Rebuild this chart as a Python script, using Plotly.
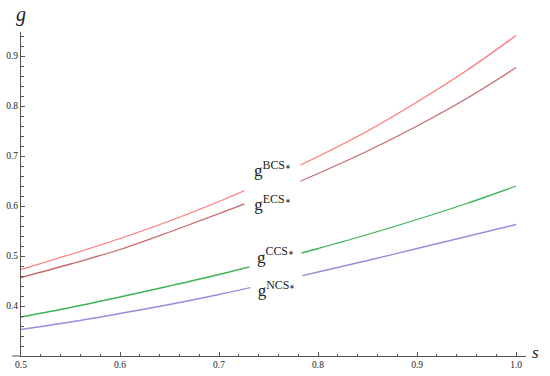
import plotly.graph_objects as go

s_vals = [0.5, 0.55, 0.6, 0.65, 0.7, 0.75, 0.8, 0.85, 0.9, 0.95, 1.0]
g_bcs = [0.473, 0.503, 0.535, 0.570, 0.609, 0.652, 0.699, 0.750, 0.808, 0.871, 0.941]
g_ecs = [0.457, 0.484, 0.513, 0.548, 0.585, 0.623, 0.665, 0.710, 0.760, 0.815, 0.877]
g_ccs = [0.378, 0.397, 0.418, 0.440, 0.463, 0.488, 0.515, 0.543, 0.573, 0.605, 0.640]
g_ncs = [0.353, 0.368, 0.385, 0.403, 0.423, 0.445, 0.468, 0.491, 0.515, 0.539, 0.563]

x_ticks = [0.5, 0.6, 0.7, 0.8, 0.9, 1.0]
x_tick_labels = ["0.5", "0.6", "0.7", "0.8", "0.9", "1.0"]
y_ticks = [0.4, 0.5, 0.6, 0.7, 0.8, 0.9]
y_tick_labels = ["0.4", "0.5", "0.6", "0.7", "0.8", "0.9"]

series = [
    ("BCS", g_bcs, "rgb(255,120,120)"),
    ("ECS", g_ecs, "rgb(200,105,110)"),
    ("CCS", g_ccs, "rgb(60,180,85)"),
    ("NCS", g_ncs, "rgb(145,145,220)"),
]

fig = go.Figure()
for name, vals, col in series:
    fig.add_trace(go.Scatter(x=s_vals, y=vals, mode="lines", name=name,
                             line=dict(color=col, width=1.3, shape="spline"),
                             showlegend=False))

serif = "Liberation Serif, Times New Roman, serif"
axcol = "#555555"

fig.update_layout(
    width=550, height=376,
    margin=dict(l=21, r=24, t=32, b=20),
    paper_bgcolor="white", plot_bgcolor="white",
    xaxis=dict(range=[0.5, 1.01], showgrid=False, zeroline=False, automargin=False,
               showline=True, linecolor=axcol, linewidth=1,
               tickvals=x_ticks, ticktext=x_tick_labels,
               ticks="inside", ticklen=4, tickcolor=axcol,
               minor=dict(dtick=0.02, ticks="inside", ticklen=2.5, tickcolor=axcol),
               tickfont=dict(family=serif, size=9.5, color="#222")),
    yaxis=dict(range=[0.3, 0.948], showgrid=False, zeroline=False, automargin=False,
               showline=True, linecolor=axcol, linewidth=1,
               tickvals=y_ticks, ticktext=y_tick_labels,
               ticks="inside", ticklen=4, tickcolor=axcol,
               minor=dict(dtick=0.02, ticks="inside", ticklen=2.5, tickcolor=axcol),
               tickfont=dict(family=serif, size=9.5, color="#222")),
)

# small extension of the x axis line to the left of the y axis
fig.add_shape(type="line", xref="paper", yref="paper", x0=-0.018, x1=0, y0=0, y1=0,
              line=dict(color=axcol, width=1))

def px_to_x(px):
    return 0.5 + (px - 21) / 990.0

def py_to_y(py):
    return 0.3 + (356 - py) / 500.0

labels = [
    ("BCS", 272.5, 176, 55, 36, "top"),
    ("ECS", 272.5, 198, 55, 32, "bottom"),
    ("CCS", 275.5, 255.5, 51, 27, "middle"),
    ("NCS", 276.5, 286.5, 51, 27, "bottom"),
]
for name, cx, cy, w, h, va in labels:
    fig.add_annotation(x=px_to_x(cx), y=py_to_y(cy), xref="x", yref="y",
                       text="g<sup>" + name + "<span style='font-size:7px'>∗</span></sup>",
                       showarrow=False,
                       xanchor="center", yanchor="middle",
                       width=w, height=h, valign=va, borderpad=0,
                       bgcolor="white",
                       font=dict(family=serif, size=17, color="#222"))

fig.add_annotation(x=0, y=(356 - 15) / 324.0, xref="paper", yref="paper",
                   text="<i>g</i>", showarrow=False, xanchor="center", yanchor="middle",
                   font=dict(family=serif, size=20, color="#222"))
fig.add_annotation(x=(535 - 21) / 505.0, y=(356 - 352) / 324.0, xref="paper", yref="paper",
                   text="<i>s</i>", showarrow=False, xanchor="center", yanchor="middle",
                   font=dict(family=serif, size=17, color="#222"))

fig.write_html("out.html",
               config={"displayModeBar": False},
               post_script="document.body.style.margin='0px';document.body.style.overflow='hidden';")
